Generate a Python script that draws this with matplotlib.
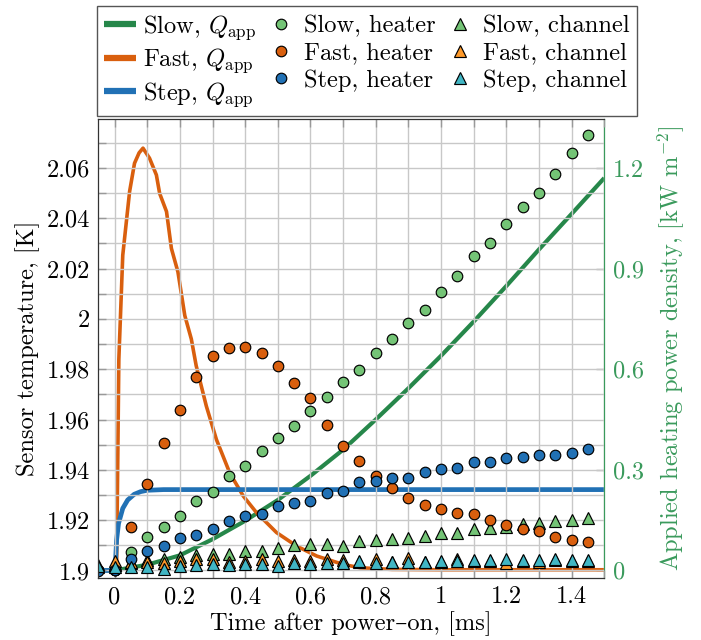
import numpy as np
import matplotlib.pyplot as plt
from matplotlib.ticker import MultipleLocator, FuncFormatter
import matplotlib

matplotlib.rcParams.update({
    "font.family": ["cmr10", "DejaVu Serif"],
    "mathtext.fontset": "cm",
    "axes.unicode_minus": False,
    "axes.formatter.use_mathtext": True,
    "font.size": 17.6,
})

# measured sensor temperatures, K
t_meas = [-0.05, 0.0, 0.05, 0.1, 0.15, 0.2, 0.25, 0.3, 0.35, 0.4, 0.45, 0.5, 0.55, 0.6, 0.65,
          0.7, 0.75, 0.8, 0.85, 0.9, 0.95, 1.0, 1.05, 1.1, 1.15, 1.2, 1.25, 1.3, 1.35, 1.4, 1.45]
slow_heater = [1.9000, 1.9000, 1.9074, 1.9134, 1.9174, 1.9218, 1.9277, 1.9311, 1.9377, 1.9414, 1.9473,
               1.9527, 1.9573, 1.9632, 1.9688, 1.9749, 1.9798, 1.9864, 1.9920, 1.9985, 2.0036, 2.0106,
               2.0172, 2.0250, 2.0300, 2.0376, 2.0446, 2.0499, 2.0578, 2.0658, 2.0730]
fast_heater = [1.9000, 1.9002, 1.9173, 1.9345, 1.9507, 1.9639, 1.9771, 1.9853, 1.9884, 1.9888, 1.9866,
               1.9811, 1.9747, 1.9684, 1.9579, 1.9496, 1.9434, 1.9377, 1.9328, 1.9288, 1.9259, 1.9243,
               1.9230, 1.9223, 1.9200, 1.9179, 1.9166, 1.9157, 1.9133, 1.9120, 1.9112]
step_heater = [1.8998, 1.9000, 1.9044, 1.9076, 1.9097, 1.9127, 1.9140, 1.9166, 1.9196, 1.9216, 1.9226,
               1.9257, 1.9267, 1.9277, 1.9307, 1.9317, 1.9350, 1.9357, 1.9368, 1.9368, 1.9390, 1.9405,
               1.9407, 1.9431, 1.9430, 1.9447, 1.9451, 1.9458, 1.9458, 1.9467, 1.9484]
slow_channel = [1.9020, 1.9020, 1.9030, 1.9040, 1.9047, 1.9055, 1.9060, 1.9064, 1.9064, 1.9077, 1.9077,
                1.9090, 1.9101, 1.9104, 1.9104, 1.9099, 1.9117, 1.9121, 1.9126, 1.9130, 1.9137, 1.9147,
                1.9150, 1.9166, 1.9170, 1.9172, 1.9183, 1.9187, 1.9196, 1.9200, 1.9207]
fast_channel = [1.9015, 1.9037, 1.9035, 1.9033, 1.9031, 1.9037, 1.9044, 1.9047, 1.9033, 1.9037, 1.9044,
                1.9037, 1.9040, 1.9037, 1.9044, 1.9040, 1.9035, 1.9044, 1.9035, 1.9048, 1.9035, 1.9035,
                1.9044, 1.9038, 1.9038, 1.9031, 1.9038, 1.9035, 1.9040, 1.9038, 1.9038]
step_channel = [1.9016, 1.9015, 1.9015, 1.9015, 1.9007, 1.9017, 1.9020, 1.9024, 1.9020, 1.9024, 1.9024,
                1.9017, 1.9028, 1.9024, 1.9031, 1.9028, 1.9037, 1.9031, 1.9033, 1.9033, 1.9033, 1.9037,
                1.9037, 1.9041, 1.9040, 1.9047, 1.9040, 1.9041, 1.9047, 1.9041, 1.9041]

# applied heating power density, kW m^-2
t_slow = [-0.05, 0.0, 0.1, 0.2, 0.3, 0.4, 0.5, 0.6, 0.7, 0.8, 0.9, 1.0, 1.1, 1.2, 1.3, 1.4, 1.5]
q_slow = [0.0, 0.0, 0.017, 0.045, 0.093, 0.148, 0.21, 0.282, 0.36, 0.45, 0.543, 0.64, 0.742, 0.848,
          0.957, 1.063, 1.17]
t_fast = [-0.05, 0.0, 0.006, 0.013, 0.025, 0.046, 0.061, 0.075, 0.087, 0.107, 0.128, 0.138, 0.159,
          0.174, 0.194, 0.215, 0.235, 0.25, 0.281, 0.312, 0.353, 0.394, 0.435, 0.496, 0.557, 0.619,
          0.7, 0.752, 0.85, 1.0, 1.5]
q_fast = [0.0, 0.0, 0.0, 0.63, 0.94, 1.13, 1.214, 1.245, 1.259, 1.229, 1.179, 1.124, 1.07, 0.96, 0.89,
          0.76, 0.69, 0.61, 0.49, 0.39, 0.29, 0.222, 0.172, 0.113, 0.073, 0.043, 0.018, 0.008, 0.003,
          0.002, 0.002]
t_step = [-0.05, 0.0, 0.003, 0.006, 0.012, 0.025, 0.04, 0.06, 0.08, 0.1, 0.15, 1.5]
q_step = [0.0, 0.0, 0.03, 0.09, 0.14, 0.185, 0.21, 0.227, 0.235, 0.239, 0.241, 0.241]

GREEN_LINE = '#26874a'
GREEN_FILL = '#74c476'
ORANGE = '#d95f0e'
ORANGE_LIGHT = '#fe9929'
BLUE = '#2171b5'
CYAN = '#41b6c4'
AXIS_GREEN = '#3a9a5c'
GRID = '#c8c8c8'


def fmt(v, pos):
    return '%g' % round(v, 4)


fig = plt.figure(figsize=(7.01, 6.4), dpi=100)
ax = fig.add_axes([0.1402, 0.0969, 0.862 - 0.1402, 0.8141 - 0.0969])
ax2 = ax.twinx()
ax.set_zorder(ax2.get_zorder() + 1)
ax.patch.set_visible(False)

# power curves (right axis, drawn underneath)
l_slow, = ax2.plot(t_slow, q_slow, color=GREEN_LINE, lw=3.0, solid_capstyle='butt')
l_fast, = ax2.plot(t_fast, q_fast, color=ORANGE, lw=2.6, solid_capstyle='butt')
l_step, = ax2.plot(t_step, q_step, color=BLUE, lw=3.4, solid_capstyle='butt')

mk = dict(linestyle='none', markeredgecolor='black', markeredgewidth=0.85)
m_sh, = ax.plot(t_meas, slow_heater, 'o', ms=7.6, markerfacecolor=GREEN_FILL, **mk)
m_sc, = ax.plot(t_meas, slow_channel, '^', ms=8.2, markerfacecolor=GREEN_FILL, **mk)
m_fh, = ax.plot(t_meas, fast_heater, 'o', ms=7.6, markerfacecolor=ORANGE, **mk)
m_fc, = ax.plot(t_meas, fast_channel, '^', ms=8.2, markerfacecolor=ORANGE_LIGHT, **mk)
m_th, = ax.plot(t_meas, step_heater, 'o', ms=7.6, markerfacecolor=BLUE, **mk)
m_tc, = ax.plot(t_meas, step_channel, '^', ms=8.2, markerfacecolor=CYAN, **mk)

ax.set_xlim(-0.05, 1.5)
ax.set_ylim(1.897, 2.0795)
ax2.set_ylim(-0.0225, 1.346)

ax.xaxis.set_major_locator(MultipleLocator(0.2))
ax.xaxis.set_minor_locator(MultipleLocator(0.1))
ax.yaxis.set_major_locator(MultipleLocator(0.02))
ax.yaxis.set_minor_locator(MultipleLocator(0.01))
ax.xaxis.set_major_formatter(FuncFormatter(fmt))
ax.yaxis.set_major_formatter(FuncFormatter(fmt))
ax2.yaxis.set_major_locator(MultipleLocator(0.3))
ax2.yaxis.set_major_formatter(FuncFormatter(fmt))

ax.grid(True, which='both', color=GRID, lw=1.0)
ax.tick_params(which='both', direction='in', length=6, color='#999999', width=1.0,
               top=True, right=False, pad=6)
ax2.tick_params(axis='y', direction='in', length=6, color='#999999', width=1.0,
                labelcolor=AXIS_GREEN, pad=6)

for s in ['left', 'top', 'bottom']:
    ax.spines[s].set_color('#333333')
    ax.spines[s].set_linewidth(0.9)
ax.spines['right'].set_visible(False)
ax2.spines['right'].set_color(AXIS_GREEN)
ax2.spines['right'].set_linewidth(0.9)
for s in ['left', 'top', 'bottom']:
    ax2.spines[s].set_visible(False)

ax.set_xlabel('Time after power–on, [ms]', labelpad=2)
ax.set_ylabel('Sensor temperature, [K]', labelpad=5)
ax2.set_ylabel(r'Applied heating power density, [kW m$^{-2}$]', color=AXIS_GREEN, labelpad=9)

handles = [l_slow, l_fast, l_step, m_sh, m_fh, m_th, m_sc, m_fc, m_tc]
labels = [r'Slow, $Q_{\mathrm{app}}$', r'Fast, $Q_{\mathrm{app}}$', r'Step, $Q_{\mathrm{app}}$',
          'Slow, heater', 'Fast, heater', 'Step, heater',
          'Slow, channel', 'Fast, channel', 'Step, channel']
leg = fig.legend(handles, labels, ncol=3, loc='upper center', bbox_to_anchor=(0.5235, 0.991),
                 frameon=True, fancybox=False, edgecolor='#555555', framealpha=1,
                 handlelength=1.3, handletextpad=0.3, columnspacing=0.35,
                 borderpad=0.3, labelspacing=0.2, borderaxespad=0)
leg.get_frame().set_linewidth(1.0)
for h in leg.legend_handles[:3]:
    h.set_linewidth(4.5)

fig.savefig('out.png', dpi=100)
